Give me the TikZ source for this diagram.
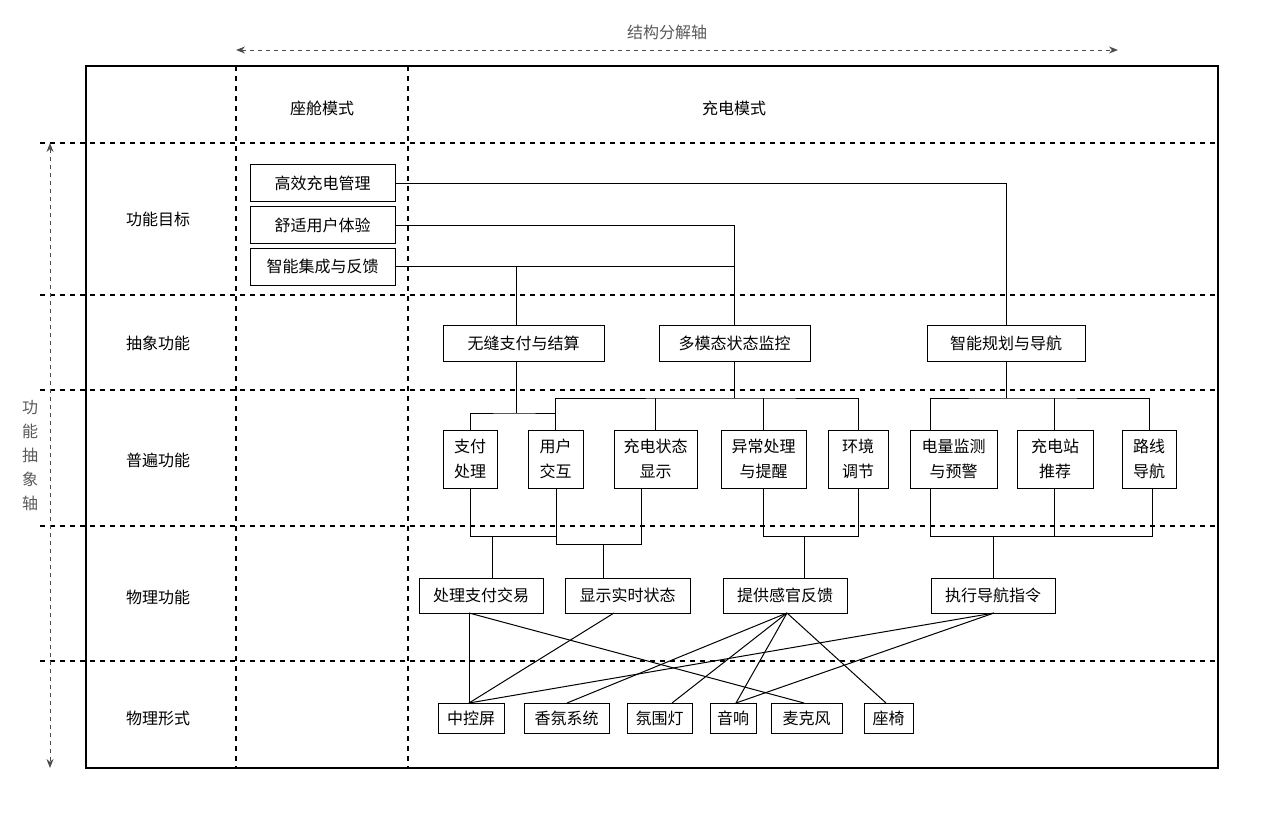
\documentclass[tikz,border=0pt]{standalone}
\usepackage{fontspec}
\setmainfont{Noto Sans CJK SC}
\usetikzlibrary{arrows.meta}
\begin{document}
\begin{tikzpicture}[x=1pt,y=-1pt,
  bx/.style={draw,line width=1pt,inner sep=0pt,font=\fontsize{16pt}{19pt}\selectfont,align=center},
  lbl/.style={font=\fontsize{16pt}{19pt}\selectfont},
  dsh/.style={line width=1.3pt,dash pattern=on 5pt off 5pt},
  ln/.style={line width=1pt}]
\useasboundingbox (0,0) rectangle (1269,835);
\draw[line width=1.6pt] (86,66) rectangle (1218,768);
\foreach \y in {143,295,390,526,661} \draw[dsh] (40,\y) -- (1218,\y);
\draw[dsh] (236,66) -- (236,768);
\draw[dsh] (408,66) -- (408,768);
\draw[line width=1pt,dash pattern=on 4pt off 4pt,gray!60!black,{Stealth[length=9pt,width=7pt]}-{Stealth[length=9pt,width=7pt]}] (236,50) -- (1118,50);
\node[lbl,text=gray!70!black] (tax) at (667,32) {结构分解轴};
\draw[line width=1pt,dash pattern=on 4pt off 4pt,gray!60!black,{Stealth[length=9pt,width=7pt]}-{Stealth[length=9pt,width=7pt]}] (50,143) -- (50,768);
\node[lbl,text=gray!70!black,align=center,font=\fontsize{16pt}{24pt}\selectfont] (lax) at (30,456) {功\\能\\抽\\象\\轴};
\node[lbl] (h1) at (322,108) {座舱模式};
\node[lbl] (h2) at (734,108) {充电模式};
\node[lbl] (r1) at (158,219) {功能目标};
\node[lbl] (r2) at (158,343) {抽象功能};
\node[lbl] (r3) at (158,460) {普遍功能};
\node[lbl] (r4) at (158,597) {物理功能};
\node[lbl] (r5) at (158,718) {物理形式};
% goals
\node[bx,minimum width=145pt,minimum height=37pt] (g1) at (322.5,183) {高效充电管理};
\node[bx,minimum width=145pt,minimum height=37pt] (g2) at (322.5,225) {舒适用户体验};
\node[bx,minimum width=145pt,minimum height=37pt] (g3) at (322.5,266.5) {智能集成与反馈};
% abstract
\node[bx,minimum width=161pt,minimum height=36pt] (a1) at (523.5,343) {无缝支付与结算};
\node[bx,minimum width=151pt,minimum height=36pt] (a2) at (734.5,343) {多模态状态监控};
\node[bx,minimum width=158pt,minimum height=36pt] (a3) at (1006,343) {智能规划与导航};
% universal
\foreach \n/\l/\r/\t in {u1/443/497/支付\\处理, u2/528/583/用户\\交互, u3/614/697/充电状态\\显示, u4/721/806/异常处理\\与提醒, u5/828/888/环境\\调节, u6/910/997/电量监测\\与预警, u7/1017/1093/充电站\\推荐, u8/1122/1176/路线\\导航}
  \node[bx,minimum width=\r-\l,minimum height=58pt,font=\fontsize{16pt}{25pt}\selectfont] (\n) at ({(\l+\r)/2},459) {\t};
% physical function
\node[bx,minimum width=124pt,minimum height=35pt] (p1) at (481,595.5) {处理支付交易};
\node[bx,minimum width=125pt,minimum height=35pt] (p2) at (627.5,595.5) {显示实时状态};
\node[bx,minimum width=124pt,minimum height=35pt] (p3) at (785,595.5) {提供感官反馈};
\node[bx,minimum width=124pt,minimum height=35pt] (p4) at (993,595.5) {执行导航指令};
% physical form
\foreach \n/\l/\r/\t in {f1/438/504/中控屏, f2/524/609/香氛系统, f3/627/692/氛围灯, f4/710/756/音响, f5/771/842/麦克风, f6/864/913/座椅}
  \node[bx,minimum width=\r-\l,minimum height=30pt] (\n) at ({(\l+\r)/2},718) {\t};
% goal connectors
\draw[ln] (g1.east) -| (a3.north);
\draw[ln] (g2.east) -| (a2.north);
\draw[ln] (g3.east) -- (g3.east -| a2.north);
\coordinate (j1) at (516,266.5);
\draw[ln] (j1) -- (j1 |- a1.north);
% abstract -> universal
\coordinate (k1) at (516,413);
\draw[ln] (k1 |- a1.south) -- (k1);
\draw[ln] (u1.north) |- (k1) -| (u2.north);
\coordinate (k2) at (734.5,398);
\draw[ln] (a2.south) -- (k2);
\draw[ln] (u2.north) |- (k2) -| (u5.north);
\draw[ln] (u3.north) -- (u3.north |- k2);
\draw[ln] (u4.north) -- (u4.north |- k2);
\coordinate (k3) at (1006,398);
\draw[ln] (a3.south) -- (k3);
\draw[ln] (930,430) |- (k3) -| (u8.north);
\draw[ln] (1054,430) -- (1054,398);
% universal -> physical
\coordinate (m1) at (470,536);
\coordinate (m2) at (556,544);
\draw[ln] (470,488) -- (m1) -- (556,536);
\draw[ln] (556,488) -- (m2) -- (641,544) -- (641,488);
\draw[ln] (492,536) -- (492,578);
\draw[ln] (603,544) -- (603,578);
\draw[ln] (763,488) |- (858,536) -- (858,488);
\draw[ln] (804,536) -- (804,578);
\draw[ln] (930,488) |- (1152,536) -- (1152,488);
\draw[ln] (1054,488) -- (1054,536);
\draw[ln] (993,536) -- (993,578);
% physical -> form
\coordinate (s1) at (469,613);
\coordinate (s2) at (614,613);
\coordinate (s3) at (787,613);
\coordinate (s4) at (994,613);
\draw[ln] (s1) -- (469,703);
\draw[ln] (s1) -- (804,703);
\draw[ln] (s2) -- (469,703);
\draw[ln] (s3) -- (567,703);
\draw[ln] (s3) -- (672,703);
\draw[ln] (s3) -- (736,703);
\draw[ln] (s3) -- (886,703);
\draw[ln] (s4) -- (469,703);
\draw[ln] (s4) -- (736,703);
\end{tikzpicture}
\end{document}
